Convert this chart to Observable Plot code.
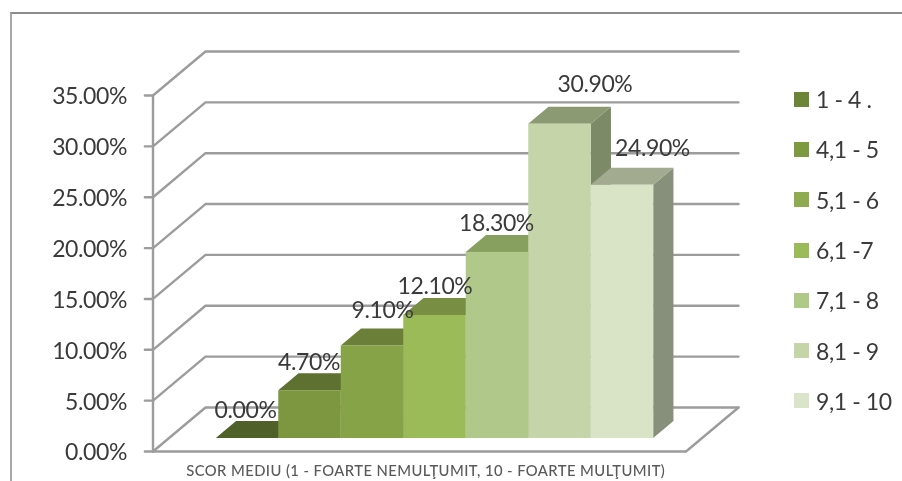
<!DOCTYPE html>
<html>
<head>
<meta charset="utf-8">
<script src="https://cdn.jsdelivr.net/npm/d3@7"></script>
<script src="https://cdn.jsdelivr.net/npm/@observablehq/plot@0.6"></script>
<style>
  html, body { margin: 0; background: #fff; }
  #page { position: relative; width: 902px; height: 481px; overflow: hidden; font-family: Lato, sans-serif; color: #3a3a3a; }
  #page svg { position: absolute; left: 0; top: 0; filter: blur(0.45px); }
  #page svg text { letter-spacing: -0.4px; }
  #frame { position: absolute; left: 10px; top: 12px; right: -4px; bottom: -4px; border: 2px solid #a8a8a8; border-top-color: #8c8c8c; }
  #legend { position: absolute; left: 794px; top: 74px; filter: blur(0.35px); }
  .row { display: flex; align-items: center; height: 50.3px; font-size: 23px; letter-spacing: -0.4px; white-space: pre; }
  .swatch { width: 15px; height: 15px; margin-right: 7px; }
</style>
</head>
<body>
<div id="page"><div id="frame"></div><div id="legend"></div></div>
<script>
const categories = ["1 - 4 .", "4,1 - 5", "5,1 - 6", "6,1 -7", "7,1 - 8", "8,1 - 9", "9,1 - 10"];
const values = [0, 4.7, 9.1, 12.1, 18.3, 30.9, 24.9];
const valueLabels = ["0.00%", "4.70%", "9.10%", "12.10%", "18.30%", "30.90%", "24.90%"];
const yTicks = [0, 5, 10, 15, 20, 25, 30, 35];
const axisTitle = "SCOR MEDIU (1 - FOARTE NEMULŢUMIT, 10 - FOARTE MULŢUMIT)";

const frontColors = ["#5f7530", "#7c973f", "#86a348", "#9bbb59", "#b0c98a", "#c6d5a9", "#d9e3c6"];
const topColors   = ["#4f6029", "#5e7131", "#6b7f38", "#778e43", "#87a060", "#8b9a72", "#a2ab8f"];
const sideColors  = ["#4a5a26", "#566829", "#5f7332", "#6c8139", "#7a9056", "#7d8a68", "#87907b"];
const legendColors = ["#6d8536", "#7e9a41", "#8fab4f", "#9bbb59", "#afc987", "#c5d5a7", "#d9e4c8"];
const labelShiftX = [-2, -1, 10, 0, -1, 35, 30];
const labelShiftY = [-28, -28, -35, -29, -29, -40, -37];

// oblique projection of the 3-D box: depth 0 = front of floor, depth 1 = back wall
const depthX = 0.84, depthY = 4.33, floorWidth = 8.53, barStart = 0.765;
const barDepth0 = 0.295, barDepth1 = 0.681, tickLen = 0.13;
const px = (u, d) => u + d * depthX;
const py = (v, d) => v + d * depthY;

const grid = yTicks.map(v => [
  {x: -tickLen, y: v},
  {x: px(0, 0), y: py(v, 0)},
  {x: px(0, 1), y: py(v, 1)},
  {x: px(floorWidth, 1), y: py(v, 1)}
]);
const floorEdge = [
  {x: 0, y: 0},
  {x: floorWidth, y: 0},
  {x: px(floorWidth, 1), y: py(0, 1)}
];
const wall = [{x: 0, y: 0}, {x: 0, y: 35}];

const barMarks = values.flatMap((v, i) => {
  const l = barStart + i, r = l + 1;
  const side = [barDepth0, barDepth1].map(d => ({x: px(r, d), y1: py(0, d), y2: py(v, d)}));
  const top = [barDepth0, barDepth1].map(d => ({y: py(v, d), x1: px(l, d), x2: px(r, d)}));
  const front = [{x1: px(l, barDepth0), x2: px(r, barDepth0), y1: py(0, barDepth0), y2: py(v, barDepth0)}];
  return [
    Plot.areaY(side, {x: "x", y1: "y1", y2: "y2", fill: sideColors[i]}),
    Plot.areaX(top, {y: "y", x1: "x1", x2: "x2", fill: topColors[i]}),
    Plot.rect(front, {x1: "x1", x2: "x2", y1: "y1", y2: "y2", fill: frontColors[i]})
  ];
});

const labelMarks = values.map((v, i) => Plot.text([valueLabels[i]], {
  x: px(barStart + i + 0.5, barDepth0),
  y: py(v, barDepth0),
  text: d => d,
  dx: labelShiftX[i],
  dy: labelShiftY[i],
  fontSize: 23,
  fill: "#3a3a3a"
}));

const gridStyle = {x: "x", y: "y", stroke: "#9c9c9c", strokeWidth: 2.4, curve: "linear"};

const chart = Plot.plot({
  width: 902,
  height: 481,
  marginLeft: 152.5,
  marginRight: 164,
  marginTop: 51,
  marginBottom: 30,
  style: {background: "transparent", fontFamily: "Lato, sans-serif", overflow: "visible"},
  x: {domain: [0, px(floorWidth, 1)], axis: null},
  y: {domain: [0, py(35, 1)], axis: null},
  marks: [
    ...grid.map(g => Plot.line(g, gridStyle)),
    Plot.line(floorEdge, gridStyle),
    Plot.line(wall, gridStyle),
    ...barMarks,
    ...labelMarks,
    Plot.axisY(yTicks, {
      anchor: "left",
      label: null,
      tickSize: 0,
      tickPadding: 26,
      dy: 1.5,
      fontSize: 23,
      fill: "#3a3a3a",
      tickFormat: d => d.toFixed(2) + "%"
    }),
    Plot.text([axisTitle], {
      frameAnchor: "bottom",
      text: d => d,
      dx: -20,
      dy: 24,
      fontSize: 14.8,
      fontWeight: 500,
      fill: "#595959"
    })
  ]
});
document.getElementById("page").appendChild(chart);
d3.select(chart).selectAll("text")
  .filter(function() { return this.textContent === axisTitle; })
  .style("letter-spacing", "0.42px");

const legend = d3.select("#legend");
categories.forEach((c, i) => {
  const row = legend.append("div").attr("class", "row");
  row.append("div").attr("class", "swatch").style("background", legendColors[i]);
  row.append("span").text(c);
});
</script>
</body>
</html>
